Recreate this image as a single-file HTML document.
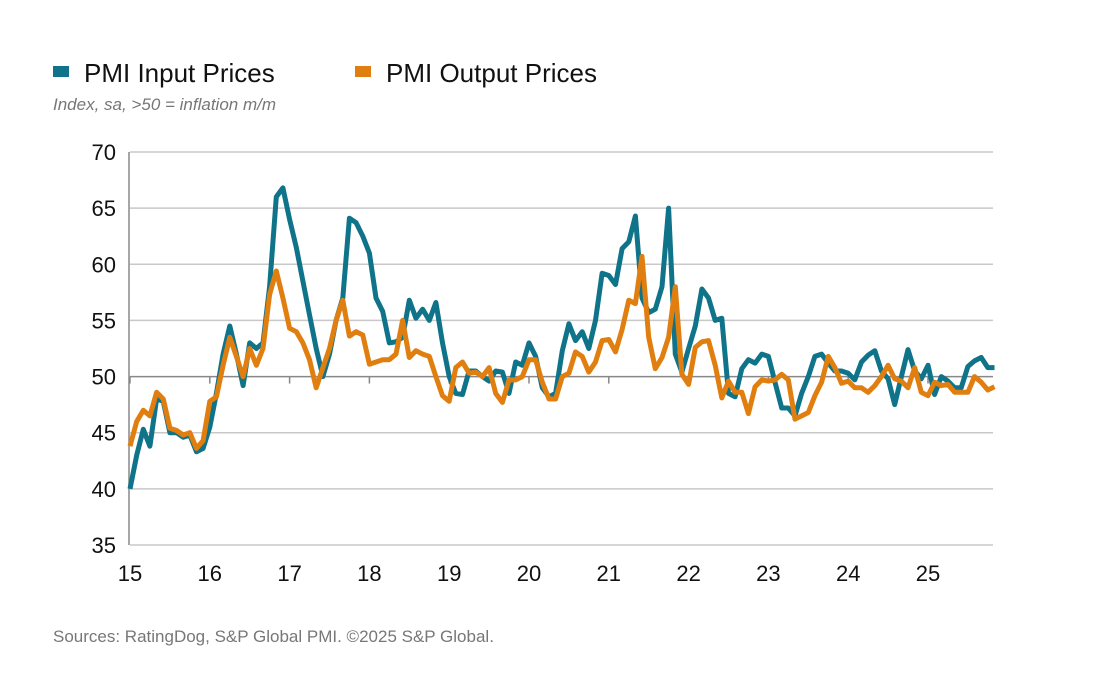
<!DOCTYPE html>
<html><head><meta charset="utf-8"><style>
body{margin:0;background:#fff;width:1115px;height:674px;overflow:hidden;font-family:"Liberation Sans",sans-serif}
</style></head><body>
<svg width="1115" height="674" xmlns="http://www.w3.org/2000/svg" id="chart">
<g>
<rect x="53" y="66" width="16" height="11" fill="#0f7389"/>
<text x="84" y="82" font-size="26" fill="#111">PMI Input Prices</text>
<rect x="355" y="66" width="16" height="11" fill="#e07f10"/>
<text x="386" y="82" font-size="26" fill="#111">PMI Output Prices</text>
</g>
<text x="53" y="110" font-size="17" font-style="italic" fill="#777">Index, sa, &gt;50 = inflation m/m</text>
<text x="53" y="642" font-size="17" fill="#777">Sources: RatingDog, S&amp;P Global PMI. ©2025 S&amp;P Global.</text>
<g id="grid"></g><g id="axes"></g><g id="lines"></g>
</svg>
<script>
const yTicks=[35,40,45,50,55,60,65,70];
const xTickLabels=["15","16","17","18","19","20","21","22","23","24","25"];
const inputPrices=[40,43,45.3,43.8,48,47.8,45,45,44.6,44.8,43.3,43.6,
45.5,48.5,52,54.5,52,49.2,53,52.5,53,58,66,66.8,
64,61.5,58.5,55.5,52.5,50,52,55,57,64.1,63.7,62.5,
61,57,55.8,53,53.1,53.5,56.8,55.2,56,55,56.6,53,
50,48.5,48.4,50.5,50.5,50,49.6,50.5,50.4,48.5,51.3,51,
53,51.8,49,48.2,48.5,52.3,54.7,53.2,54,52.5,55,59.2,
59,58.2,61.4,62,64.3,57,55.7,56,58,65,52,50.4,
52.5,54.5,57.8,57,55,55.2,48.5,48.2,50.7,51.5,51.2,52,
51.8,49.5,47.2,47.2,46.5,48.5,50,51.8,52,51.2,50.5,50.5,
50.3,49.7,51.3,51.9,52.3,50.5,49.8,47.5,50,52.4,50.5,49.8,
51,48.4,50,49.6,49,49,50.9,51.4,51.7,50.8,50.8];
const outputPrices=[43.8,46,47,46.5,48.6,48,45.4,45.2,44.8,45,43.6,44.3,
47.8,48.2,51,53.5,51.8,50,52.5,51,52.5,57.3,59.4,57,
54.3,54,53,51.5,49,50.8,52.5,55,56.8,53.6,54,53.7,
51.1,51.3,51.5,51.5,52,55,51.7,52.3,52,51.8,50,48.3,
47.8,50.8,51.3,50.3,50.4,50,50.8,48.5,47.7,49.7,49.7,50,
51.5,51.5,49.5,48,48,50,50.3,52.2,51.8,50.4,51.3,53.2,
53.3,52.2,54.2,56.8,56.5,60.7,53.5,50.7,51.7,53.5,58,50.2,
49.3,52.6,53.1,53.2,51,48.1,49.6,48.6,48.6,46.7,49.1,49.7,
49.6,49.7,50.2,49.7,46.2,46.5,46.8,48.3,49.5,51.8,50.8,49.4,
49.6,49,49,48.6,49.2,50,51,49.8,49.6,49,50.8,48.6,
48.3,49.5,49.2,49.3,48.6,48.6,48.6,50,49.5,48.8,49.1];
const NS="http://www.w3.org/2000/svg";
const X0=130,X1=993,Y0=152,Y1=545,pxMonth=79.8/12;
const xS=i=>X0+i*pxMonth, yS=v=>Y1-(v-35)/35*(Y1-Y0);
function mk(t,a,p){const e=document.createElementNS(NS,t);for(const k in a)e.setAttribute(k,a[k]);p.appendChild(e);return e;}
const grid=document.getElementById('grid'),axes=document.getElementById('axes'),lines=document.getElementById('lines');
yTicks.forEach(v=>{
 const l=mk('line',{x1:X0,x2:X1,y1:yS(v),y2:yS(v),stroke:v===50?'#888':'#c8c8c8','stroke-width':v===50?1.5:1.5},grid);
 
 
 const t=mk('text',{x:X0-14,y:yS(v)+8,'text-anchor':'end','font-size':22,fill:'#111'},axes);t.textContent=v;
 
 
});
const ax=mk('line',{x1:X0-1,x2:X0-1,y1:Y0,y2:Y1,stroke:'#888','stroke-width':1.5},axes);


xTickLabels.forEach((s,i)=>{
 const x=xS(i*12);
 const tk=mk('line',{x1:x,x2:x,y1:yS(50),y2:yS(50)+7,stroke:'#888','stroke-width':1.5},axes);
 
 
 const t=mk('text',{x:x,y:Y1+36,'text-anchor':'middle','font-size':22,fill:'#111'},axes);t.textContent=s;
 
 
});
function series(d,c,n){
 const p=mk('path',{d:d.map((v,i)=>(i?'L':'M')+xS(i).toFixed(1)+','+yS(v).toFixed(1)).join(''),fill:'none',stroke:c,'stroke-width':5,'stroke-linejoin':'round'},lines);
 
 
}
series(inputPrices,'#0f7389','input-prices-line');
series(outputPrices,'#e07f10','output-prices-line');
</script>
</body></html>
